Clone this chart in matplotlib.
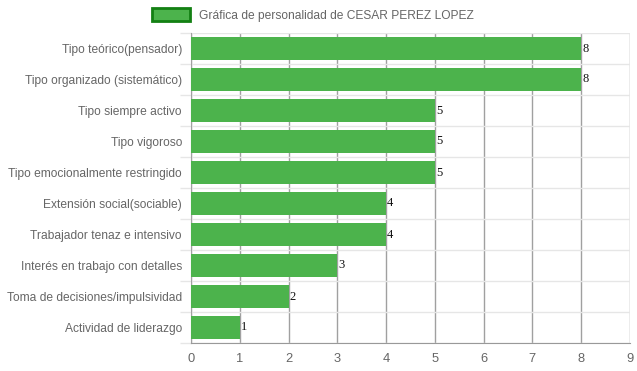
import matplotlib.pyplot as plt
import numpy as np

plt.rcParams['font.family'] = ['Liberation Sans', 'DejaVu Sans']

categories = [
    "Tipo teórico(pensador)",
    "Tipo organizado (sistemático)",
    "Tipo siempre activo",
    "Tipo vigoroso",
    "Tipo emocionalmente restringido",
    "Extensión social(sociable)",
    "Trabajador tenaz e intensivo",
    "Interés en trabajo con detalles",
    "Toma de decisiones/impulsividad",
    "Actividad de liderazgo",
]
values = [8, 8, 5, 5, 5, 4, 4, 3, 2, 1]
legend_label = "Gráfica de personalidad de CESAR PEREZ LOPEZ"
x_ticks = list(range(0, 10))

fig = plt.figure(figsize=(6.37, 3.71), dpi=100)
ax = fig.add_axes([191/637, 28/371, (630-191)/637, (343-33)/371])

fill = "#4cb34c"
y = np.arange(len(categories))
ax.barh(y, values, height=0.72, color=fill, edgecolor=fill, linewidth=0, zorder=3)
ax.set_ylim(len(categories) - 0.5, -0.5)
ax.set_xlim(0, 9)

for yi, v in zip(y, values):
    ax.text(v + 0.02, yi + 0.0, str(v), family="Liberation Serif", fontsize=9,
            color="#111111", va="center", ha="left", zorder=4)

ax.set_yticks(y)
ax.set_yticklabels(categories, fontsize=8.65, color="#666666")
ax.set_yticks(np.arange(-0.5, len(categories)), minor=True)
ax.tick_params(axis="y", which="major", length=0, pad=6.5)
ax.tick_params(axis="y", which="minor", length=8, color="#e6e6e6", width=1)
ax.set_xticks(x_ticks)
ax.set_xticklabels([str(t) for t in x_ticks], fontsize=9.3, color="#666666")
ax.tick_params(axis="x", length=0, pad=7)

ax.grid(axis="x", color="#a0a0a0", linewidth=1, zorder=1)
ax.grid(axis="y", which="minor", color="#e6e6e6", linewidth=1, zorder=1)

for s in ["top", "right"]:
    ax.spines[s].set_visible(False)
ax.spines["left"].set_color("#a0a0a0")
ax.spines["bottom"].set_color("#999999")

# legend
fig.patches.append(plt.Rectangle((152/637, 1 - 21/371), 38/637, 13/371,
                                 transform=fig.transFigure, facecolor=fill,
                                 edgecolor="#138013", linewidth=2))
fig.text(199/637, 1 - 15.5/371, legend_label, fontsize=8.65, color="#666666",
         va="center", ha="left")

fig.savefig("out.png", dpi=100)
